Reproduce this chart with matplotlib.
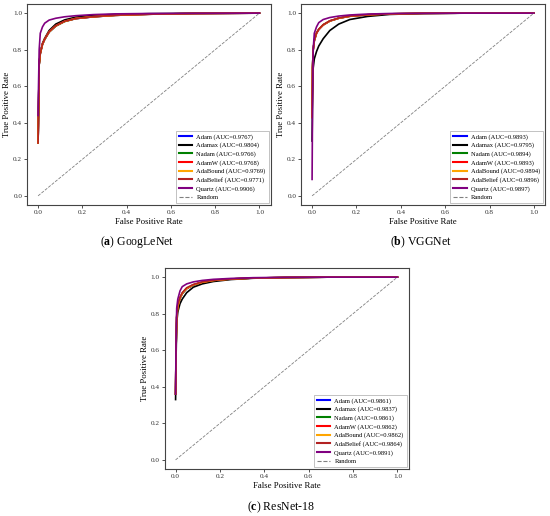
import numpy as np
import matplotlib
matplotlib.use("Agg")
import matplotlib.pyplot as plt

plt.rcParams['font.family'] = ['Liberation Serif', 'DejaVu Serif']
plt.rcParams['mathtext.fontset'] = 'custom'
plt.rcParams['mathtext.rm'] = 'Liberation Serif'
plt.rcParams['mathtext.bf'] = 'Liberation Serif:bold'

# 优化器名称与颜色
optimizers = ['Adam', 'Adamax', 'Nadam', 'AdamW', 'AdaBound', 'AdaBelief', 'Quartz']
colors = ['blue', 'black', 'green', 'red', 'orange', '#b22222', 'purple']

# 共用的假阳性率网格
fpr = [0, 0.002, 0.005, 0.01, 0.02, 0.03, 0.05, 0.08, 0.12, 0.17, 0.25, 0.35, 0.5, 0.7, 1.0]

# (a) GoogLeNet
auc_google = [0.9767, 0.9804, 0.9766, 0.9768, 0.9769, 0.9771, 0.9906]
tpr_google = [
    [0.29, 0.45, 0.72, 0.78, 0.83, 0.857, 0.897, 0.930, 0.955, 0.970, 0.980, 0.988, 0.994, 0.998, 1.0],
    [0.29, 0.45, 0.72, 0.78, 0.835, 0.862, 0.905, 0.940, 0.963, 0.978, 0.988, 0.993, 0.997, 0.999, 1.0],
    [0.29, 0.45, 0.72, 0.78, 0.829, 0.856, 0.896, 0.929, 0.954, 0.970, 0.980, 0.988, 0.994, 0.998, 1.0],
    [0.29, 0.45, 0.72, 0.78, 0.830, 0.857, 0.897, 0.930, 0.955, 0.970, 0.980, 0.988, 0.994, 0.998, 1.0],
    [0.29, 0.45, 0.72, 0.78, 0.830, 0.858, 0.898, 0.931, 0.955, 0.971, 0.981, 0.988, 0.994, 0.998, 1.0],
    [0.29, 0.45, 0.72, 0.78, 0.831, 0.859, 0.899, 0.932, 0.956, 0.971, 0.981, 0.989, 0.994, 0.998, 1.0],
    [0.44, 0.60, 0.80, 0.89, 0.925, 0.945, 0.962, 0.972, 0.980, 0.986, 0.992, 0.996, 0.998, 0.999, 1.0],
]

# (b) VGGNet
auc_vgg = [0.9893, 0.9795, 0.9894, 0.9893, 0.9894, 0.9896, 0.9897]
tpr_vgg = [
    [0.43, 0.70, 0.80, 0.85, 0.890, 0.910, 0.935, 0.957, 0.972, 0.983, 0.991, 0.996, 0.999, 1.0, 1.0],
    [0.30, 0.55, 0.70, 0.75, 0.790, 0.820, 0.860, 0.905, 0.940, 0.965, 0.982, 0.993, 0.998, 1.0, 1.0],
    [0.43, 0.70, 0.80, 0.85, 0.891, 0.911, 0.936, 0.957, 0.972, 0.983, 0.991, 0.996, 0.999, 1.0, 1.0],
    [0.43, 0.70, 0.80, 0.85, 0.890, 0.910, 0.935, 0.957, 0.972, 0.983, 0.991, 0.996, 0.999, 1.0, 1.0],
    [0.43, 0.70, 0.80, 0.85, 0.891, 0.911, 0.936, 0.957, 0.972, 0.983, 0.991, 0.996, 0.999, 1.0, 1.0],
    [0.43, 0.70, 0.80, 0.85, 0.892, 0.912, 0.937, 0.958, 0.973, 0.984, 0.991, 0.996, 0.999, 1.0, 1.0],
    [0.09, 0.50, 0.80, 0.89, 0.925, 0.948, 0.965, 0.976, 0.984, 0.990, 0.995, 0.998, 0.999, 1.0, 1.0],
]

# (c) ResNet-18
auc_resnet = [0.9861, 0.9837, 0.9861, 0.9862, 0.9862, 0.9864, 0.9891]
tpr_resnet = [
    [0.36, 0.60, 0.78, 0.84, 0.885, 0.910, 0.937, 0.957, 0.972, 0.982, 0.990, 0.995, 0.998, 1.0, 1.0],
    [0.33, 0.55, 0.75, 0.81, 0.855, 0.880, 0.915, 0.945, 0.963, 0.976, 0.987, 0.994, 0.998, 1.0, 1.0],
    [0.36, 0.60, 0.78, 0.84, 0.885, 0.910, 0.937, 0.957, 0.972, 0.982, 0.990, 0.995, 0.998, 1.0, 1.0],
    [0.36, 0.60, 0.78, 0.84, 0.886, 0.911, 0.938, 0.958, 0.972, 0.982, 0.990, 0.995, 0.998, 1.0, 1.0],
    [0.36, 0.60, 0.78, 0.84, 0.886, 0.911, 0.938, 0.958, 0.972, 0.982, 0.990, 0.995, 0.998, 1.0, 1.0],
    [0.36, 0.61, 0.79, 0.85, 0.890, 0.915, 0.942, 0.960, 0.974, 0.983, 0.990, 0.995, 0.998, 1.0, 1.0],
    [0.36, 0.65, 0.83, 0.88, 0.925, 0.948, 0.963, 0.974, 0.982, 0.988, 0.993, 0.997, 0.999, 1.0, 1.0],
]

captions = [r'($\mathbf{a}$) GoogLeNet', r'($\mathbf{b}$) VGGNet', r'($\mathbf{c}$) ResNet-18']


def draw_roc(ax, tprs, aucs):
    """绘制一组ROC曲线"""
    for name, color, tpr, auc in zip(optimizers, colors, tprs, aucs):
        ax.plot(fpr, tpr, color=color, lw=1.2, label=f'{name} (AUC={auc:.4f})')
    ax.plot([0, 1], [0, 1], '--', color='gray', lw=0.6, label='Random')
    ax.set_xlabel('False Positive Rate', fontsize=6.3, labelpad=2)
    ax.set_ylabel('True Positive Rate', fontsize=6.3, labelpad=1.5)
    ax.set_xticks([0, 0.2, 0.4, 0.6, 0.8, 1.0])
    ax.set_yticks([0, 0.2, 0.4, 0.6, 0.8, 1.0])
    ax.tick_params(labelsize=5.2, length=2, width=0.6, pad=1.5, colors='#333333')
    for sp in ax.spines.values():
        sp.set_linewidth(0.8)
        sp.set_color('#444444')
    leg = ax.legend(loc='lower right', fontsize=4.7, handlelength=2.1,
                    borderpad=0.45, labelspacing=0.42, borderaxespad=0.3,
                    handletextpad=0.6, fancybox=False, framealpha=1)
    leg.get_frame().set_linewidth(0.5)
    leg.get_frame().set_edgecolor('#aaaaaa')
    for line in leg.get_lines()[:-1]:
        line.set_linewidth(1.5)
    leg.get_lines()[-1].set_linewidth(0.8)


fig = plt.figure(figsize=(5.5, 5.16), dpi=100)
W, H = 550, 516
boxes = [(27, 4, 243.5, 201), (301, 4, 244, 201), (164.5, 268, 244, 201)]
data = [(tpr_google, auc_google), (tpr_vgg, auc_vgg), (tpr_resnet, auc_resnet)]
cap_pos = [(137, 242), (421, 242), (281, 507)]

for (x0, y0, w, h), (tprs, aucs), cap, (cx, cy) in zip(boxes, data, captions, cap_pos):
    ax = fig.add_axes([x0 / W, 1 - (y0 + h) / H, w / W, h / H])
    draw_roc(ax, tprs, aucs)
    fig.text(cx / W, 1 - cy / H, cap, ha='center', va='center', fontsize=8.5)

fig.savefig('out.png', dpi=100)
